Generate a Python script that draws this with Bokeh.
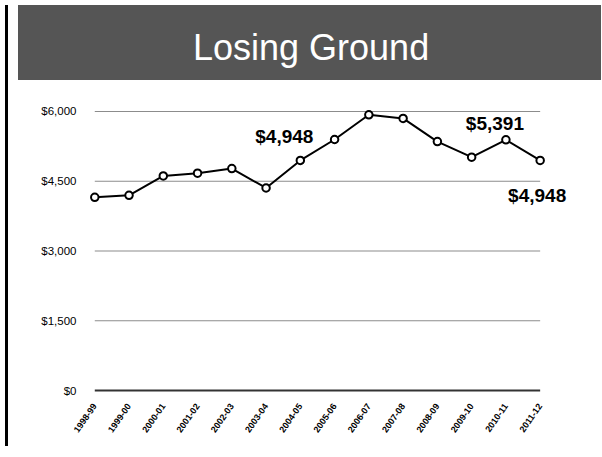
import math
from bokeh.plotting import figure
from bokeh.models import Div, FixedTicker, Range1d, ColumnDataSource
from bokeh.layouts import row, column
from bokeh.core.properties import value
from bokeh.embed import file_html
from bokeh.resources import INLINE

# ---- data ----
title_text = "Losing Ground"
years = ["1998-99", "1999-00", "2000-01", "2001-02", "2002-03", "2003-04", "2004-05",
         "2005-06", "2006-07", "2007-08", "2008-09", "2009-10", "2010-11", "2011-12"]
funding = [4154, 4198, 4614, 4673, 4772, 4355, 4948, 5398, 5929, 5851, 5353, 5018, 5391, 4948]
y_ticks = [0, 1500, 3000, 4500, 6000]
y_tick_labels = ["$0", "$1,500", "$3,000", "$4,500", "$6,000"]
callout_idx = [6, 12, 13]
callout_text = ["$4,948", "$5,391", "$4,948"]
callout_dx = [-16, -11, -3]
callout_dy = [-24, -16, 35]

idx = list(range(len(years)))

FONT = "Liberation Sans"

strip = Div(width=3, height=441, styles={"background-color": "black"})

title = Div(
    text=f"<div style='position:absolute;left:175px;top:25px;font-family:{FONT},Arial,sans-serif;"
         f"font-size:36px;line-height:36px;color:white;white-space:nowrap;'>{title_text}</div>",
    width=583, height=75,
    styles={"background-color": "#555555", "position": "relative", "overflow": "hidden"},
)

p = figure(frame_width=493, frame_height=295, output_backend="svg", toolbar_location=None,
           min_border_left=71, min_border_right=19, min_border_top=17, min_border_bottom=54,
           x_range=Range1d(-0.3, 14.09), y_range=Range1d(-150.5, 6193.5))
p.outline_line_color = None
p.background_fill_color = "white"
p.border_fill_color = "white"
p.xgrid.visible = False
p.ygrid.visible = False

# gridlines from tick values
grid_colors = ["#333333" if v == 0 else "#8c8c8c" for v in y_ticks]
grid_widths = [2 if v == 0 else 1.2 for v in y_ticks]
p.segment(x0=[idx[0]] * len(y_ticks), x1=[idx[-1]] * len(y_ticks), y0=y_ticks, y1=y_ticks,
          line_color=grid_colors, line_width=grid_widths)

src = ColumnDataSource(dict(x=idx, y=funding))
p.line("x", "y", source=src, line_color="black", line_width=2)
p.scatter("x", "y", source=src, size=7.5, fill_color="white", line_color="black", line_width=2)

p.text(x=[idx[i] for i in callout_idx], y=[funding[i] for i in callout_idx], text=callout_text,
       x_offset=callout_dx, y_offset=callout_dy, text_align="center", text_baseline="middle",
       text_font=value(FONT), text_font_style="bold", text_font_size="19px", text_color="black")

p.xaxis.ticker = FixedTicker(ticks=idx)
p.xaxis.major_label_overrides = {i: y for i, y in zip(idx, years)}
p.xaxis.major_label_orientation = math.radians(55)
p.xaxis.major_label_text_font = FONT
p.xaxis.major_label_text_font_size = "9px"
p.xaxis.major_label_text_font_style = "bold"
p.xaxis.major_label_text_color = "black"
p.xaxis.major_label_standoff = 1

p.yaxis.ticker = FixedTicker(ticks=y_ticks)
p.yaxis.major_label_overrides = {v: s for v, s in zip(y_ticks, y_tick_labels)}
p.yaxis.major_label_text_font = FONT
p.yaxis.major_label_text_font_size = "11.5px"
p.yaxis.major_label_text_color = "black"
p.yaxis.major_label_standoff = 2

for ax in (p.xaxis, p.yaxis):
    ax.axis_line_color = None
    ax.major_tick_line_color = None
    ax.minor_tick_line_color = None

layout = row(strip, column(title, p, spacing=0), spacing=0)
open("out.html", "w").write(file_html(layout, INLINE))
